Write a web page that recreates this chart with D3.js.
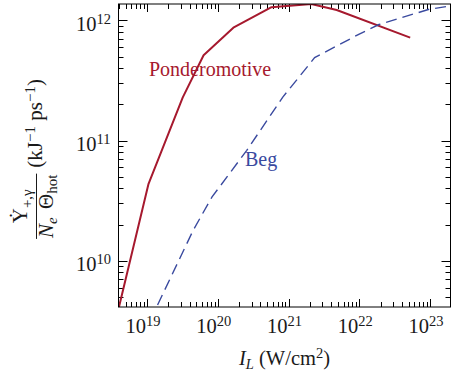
<!DOCTYPE html>
<html><head><meta charset="utf-8">
<script src="https://cdn.jsdelivr.net/npm/d3@7"></script>
<style>
body{margin:0;background:#fff}
svg{display:block}
</style>
</head><body>
<svg id="c" width="452" height="375"></svg>
<script>
// ---- data ----
const pondIntensity = [4.0e18, 1.05e19, 3.2e19, 6.3e19, 1.66e20, 5.75e20, 2.1e21, 4.8e21, 5.25e22];
const pondRate      = [4.1e9, 4.37e10, 2.29e11, 5.13e11, 8.7e11, 1.29e12, 1.37e12, 1.22e12, 7.2e11];
const begIntensity  = [1.11e19, 4.5e19, 8.3e19, 2.57e20, 8.3e20, 2.34e21, 1.0e22, 1.9e22, 9.8e22, 1.95e23];
const begRate       = [3.2e9, 1.8e10, 3.4e10, 8.3e10, 2.3e11, 4.9e11, 7.7e11, 9.25e11, 1.24e12, 1.32e12];
const xTickExps = [19, 20, 21, 22, 23];
const yTickExps = [10, 11, 12];
const seriesNames = ["Ponderomotive", "Beg"];

const red = "#a6192e", blue = "#3a4a9f";
const L = 118.5, R = 450.5, T = 4, B = 307;
const FONT = "'Liberation Serif','Times New Roman',serif";

const svg = d3.select("#c");
const x = d3.scaleLog().domain([3.95e18, 1.95e23]).range([L, R]);
const y = d3.scaleLog().domain([4.13e9, 1.37e12]).range([B, T]);

svg.append("clipPath").attr("id", "clip").append("rect")
  .attr("x", L).attr("y", T).attr("width", R - L).attr("height", B - T);

// ticks
function minorTicks(dom) {
  const out = [];
  const lo = Math.floor(Math.log10(dom[0])), hi = Math.ceil(Math.log10(dom[1]));
  for (let e = lo; e <= hi; e++) for (let k = 1; k <= 9; k++) {
    const v = k * Math.pow(10, e);
    if (v >= dom[0] && v <= dom[1]) out.push({v, major: k === 1});
  }
  return out;
}
const tg = svg.append("g").attr("stroke", "#000").attr("stroke-width", 1);
minorTicks(x.domain()).forEach(t => {
  const px = Math.round(x(t.v)) + 0.5, len = t.major ? 8 : 5;
  tg.append("line").attr("x1", px).attr("x2", px).attr("y1", B).attr("y2", B - len);
  tg.append("line").attr("x1", px).attr("x2", px).attr("y1", T).attr("y2", T + len);
});
minorTicks(y.domain()).forEach(t => {
  const py = Math.round(y(t.v)) + 0.5, len = t.major ? 9 : 5;
  tg.append("line").attr("y1", py).attr("y2", py).attr("x1", L).attr("x2", L + len);
  tg.append("line").attr("y1", py).attr("y2", py).attr("x1", R).attr("x2", R - len);
});

// lines
const line = d3.line().x(d => x(d[0])).y(d => y(d[1]));
const lg = svg.append("g").attr("clip-path", "url(#clip)");
lg.append("path").datum(pondIntensity.map((v, i) => [v, pondRate[i]]))
  .attr("d", line).attr("fill", "none").attr("stroke", red).attr("stroke-width", 2)
  .attr("stroke-linejoin", "round");
lg.append("path").datum(begIntensity.map((v, i) => [v, begRate[i]]))
  .attr("d", line).attr("fill", "none").attr("stroke", blue).attr("stroke-width", 1.4)
  .attr("stroke-dasharray", "11,6");

// frame
svg.append("rect").attr("x", L).attr("y", T).attr("width", R - L).attr("height", B - T)
  .attr("fill", "none").attr("stroke", "#000").attr("stroke-width", 1);

function txt(sel) { return sel.append("text").style("font-family", FONT); }

// tick labels
xTickExps.forEach(e => {
  const t = txt(svg).attr("x", x(Math.pow(10, e)) - 21.5).attr("y", 333)
    .attr("font-size", 20.5).attr("fill", "#1a1a1a");
  t.append("tspan").text("10");
  t.append("tspan").attr("font-size", 14.5).attr("dy", -7).text(e);
});
yTickExps.forEach(e => {
  const t = txt(svg).attr("x", 76).attr("y", y(Math.pow(10, e)) + 10.5)
    .attr("font-size", 20.5).attr("fill", "#1a1a1a");
  t.append("tspan").text("10");
  t.append("tspan").attr("font-size", 14.5).attr("dy", -7).text(e);
});

// series labels
txt(svg).attr("x", 149).attr("y", 76).attr("font-size", 20).attr("fill", red).text(seriesNames[0]);
txt(svg).attr("x", 245).attr("y", 166).attr("font-size", 20).attr("fill", blue).text(seriesNames[1]);

// x axis title
const xt = txt(svg).attr("x", (L + R) / 2).attr("y", 365).attr("text-anchor", "middle")
  .attr("font-size", 20.5).attr("fill", "#1a1a1a");
xt.append("tspan").attr("font-style", "italic").text("I");
xt.append("tspan").attr("font-style", "italic").attr("font-size", 14.5).attr("dy", 4).text("L");
xt.append("tspan").attr("dy", -4).text(" (W/cm");
xt.append("tspan").attr("font-size", 14.5).attr("dy", -7).text("2");
xt.append("tspan").attr("dy", 7).text(")");

// y axis title (rotated)
const yg = svg.append("g").attr("fill", "#1a1a1a");
const num = txt(yg).attr("font-size", 21).attr("text-anchor", "middle").attr("y", -9);
num.append("tspan").text("\u1E8E");
num.append("tspan").attr("font-size", 15).attr("dy", 5).text("+,\u03B3");
const den = txt(yg).attr("font-size", 21).attr("text-anchor", "middle").attr("y", 17);
den.append("tspan").attr("font-style", "italic").text("N");
den.append("tspan").attr("font-style", "italic").attr("font-size", 15).attr("dy", 4).text("e");
den.append("tspan").attr("dy", -4).attr("dx", 3).text(" \u0398");
den.append("tspan").attr("font-size", 15).attr("dy", 4).text("hot");
const fw = Math.max(num.node().getComputedTextLength(), den.node().getComputedTextLength() + 3) + 2;
yg.append("line").attr("x1", -fw / 2).attr("x2", fw / 2).attr("y1", 0.5).attr("y2", 0.5)
  .attr("stroke", "#1a1a1a").attr("stroke-width", 1);
const units = txt(yg).attr("font-size", 21).attr("y", 6).attr("x", fw / 2 + 6);
units.append("tspan").text("(kJ");
units.append("tspan").attr("font-size", 15).attr("dy", -7).text("\u22121");
units.append("tspan").attr("dy", 7).text(" ps");
units.append("tspan").attr("font-size", 15).attr("dy", -7).text("\u22121");
units.append("tspan").attr("dy", 7).text(")");
const uw = units.node().getComputedTextLength();
const total = fw + 6 + uw;
const shift = -total / 2 + fw / 2;
yg.selectAll("text,line").attr("transform", `translate(${shift},0)`);
yg.attr("transform", `translate(36,159) rotate(-90)`);
</script>
</body></html>
